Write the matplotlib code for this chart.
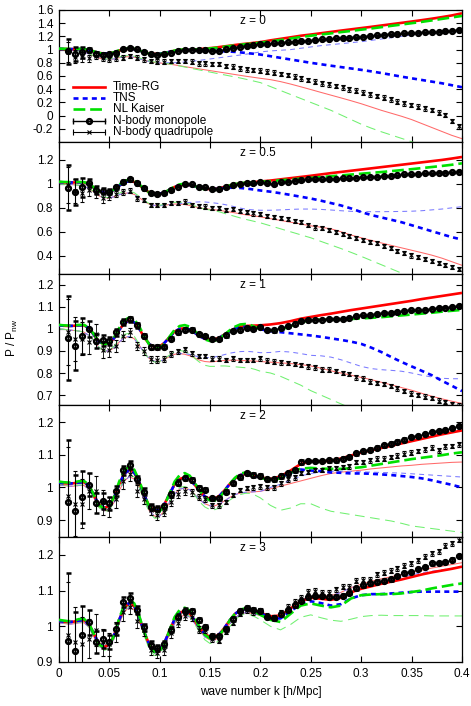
import numpy as np
import matplotlib
matplotlib.use("Agg")
import matplotlib.pyplot as plt
from matplotlib.ticker import FuncFormatter

plt.rcParams['font.family'] = ['Liberation Sans', 'DejaVu Sans']
plt.rcParams['mathtext.fontset'] = 'custom'
plt.rcParams['mathtext.rm'] = 'Liberation Sans'
plt.rcParams['mathtext.it'] = 'Liberation Sans'
plt.rcParams['lines.scale_dashes'] = False

# ---------------- data ----------------
k_nbody = [0.0095, 0.0163, 0.0231, 0.0299, 0.0367, 0.0435, 0.0503, 0.0571, 0.0639, 0.0707,
           0.0775, 0.0843, 0.0911, 0.0979, 0.1047, 0.1115, 0.1183, 0.1251, 0.1319, 0.1387,
           0.1455, 0.1523, 0.1591, 0.1659, 0.1727, 0.1795, 0.1863, 0.1931, 0.1999, 0.2067,
           0.2135, 0.2203, 0.2271, 0.2339, 0.2407, 0.2475, 0.2543, 0.2611, 0.2679, 0.2747,
           0.2815, 0.2883, 0.2951, 0.3019, 0.3087, 0.3155, 0.3223, 0.3291, 0.3359, 0.3427,
           0.3495, 0.3563, 0.3631, 0.3699, 0.3767, 0.3835, 0.3903, 0.3971]

k_line = [0.0, 0.005, 0.01, 0.015, 0.02, 0.025, 0.03, 0.035, 0.04, 0.045,
          0.05, 0.055, 0.06, 0.065, 0.07, 0.075, 0.08, 0.085, 0.09, 0.095,
          0.1, 0.105, 0.11, 0.115, 0.12, 0.125, 0.13, 0.135, 0.14, 0.145,
          0.15, 0.155, 0.16, 0.165, 0.17, 0.175, 0.18, 0.185, 0.19, 0.195,
          0.2, 0.21, 0.22, 0.23, 0.24, 0.25, 0.26, 0.27, 0.28, 0.29,
          0.3, 0.31, 0.32, 0.33, 0.34, 0.35, 0.36, 0.37, 0.38, 0.39, 0.4]

mono_err = [0.190, 0.110, 0.080, 0.035, 0.030, 0.025, 0.020, 0.016, 0.014, 0.012,
            0.011, 0.010, 0.009, 0.008, 0.008, 0.007, 0.007, 0.006, 0.006, 0.006,
            0.005, 0.005, 0.005, 0.005, 0.005, 0.005, 0.005, 0.005, 0.005, 0.005,
            0.005, 0.005, 0.005, 0.005, 0.005, 0.004, 0.004, 0.004, 0.004, 0.004,
            0.004, 0.004, 0.004, 0.004, 0.004, 0.004, 0.004, 0.004, 0.004, 0.004,
            0.003, 0.003, 0.003, 0.003, 0.003, 0.003, 0.003, 0.003]

# ---- z = 0 ----
mono_z0 = [0.975, 0.930, 0.960, 0.995, 0.935, 0.925, 0.930, 0.955, 1.005, 1.030,
           1.005, 0.970, 0.930, 0.925, 0.930, 0.950, 0.980, 0.995, 1.000, 0.995,
           0.995, 0.985, 0.985, 1.004, 1.029, 1.044, 1.055, 1.070, 1.080, 1.085,
           1.095, 1.105, 1.110, 1.121, 1.131, 1.136, 1.146, 1.156, 1.161, 1.171,
           1.176, 1.181, 1.186, 1.196, 1.206, 1.217, 1.227, 1.232, 1.236, 1.247,
           1.252, 1.257, 1.262, 1.267, 1.272, 1.282, 1.287, 1.297]
quad_z0 = [0.960, 0.890, 0.890, 0.868, 0.900, 0.870, 0.853, 0.868, 0.880, 0.903,
           0.880, 0.853, 0.827, 0.817, 0.817, 0.827, 0.826, 0.826, 0.817, 0.792,
           0.792, 0.782, 0.782, 0.752, 0.741, 0.716, 0.701, 0.691, 0.681, 0.666,
           0.650, 0.630, 0.615, 0.590, 0.564, 0.539, 0.514, 0.489, 0.474, 0.448,
           0.429, 0.398, 0.377, 0.347, 0.322, 0.297, 0.271, 0.247, 0.211, 0.186,
           0.161, 0.135, 0.110, 0.085, 0.045, 0.010, -0.080, -0.165]
quad_err_z0 = [0.150, 0.100, 0.075, 0.055, 0.045, 0.040, 0.038, 0.035, 0.035, 0.035,
               0.035, 0.035, 0.035, 0.035, 0.035, 0.035, 0.035, 0.035, 0.035, 0.035,
               0.035, 0.035, 0.035, 0.035, 0.035, 0.035, 0.035, 0.035, 0.035, 0.035,
               0.035, 0.035, 0.035, 0.035, 0.035, 0.035, 0.035, 0.035, 0.035, 0.035,
               0.035, 0.035, 0.035, 0.035, 0.035, 0.035, 0.035, 0.035, 0.035, 0.035,
               0.035, 0.035, 0.035, 0.035, 0.035, 0.035, 0.035, 0.035]
trg_mono_z0 = [1.012, 1.010, 1.008, 1.008, 1.008, 1.006, 0.995, 0.972, 0.950, 0.940,
               0.943, 0.960, 0.985, 1.005, 1.013, 1.006, 0.985, 0.960, 0.942, 0.935,
               0.937, 0.948, 0.966, 0.982, 0.995, 0.998, 1.000, 1.003, 1.008, 1.015,
               1.022, 1.030, 1.040, 1.050, 1.060, 1.070, 1.080, 1.088, 1.096, 1.105,
               1.113,
               1.140, 1.163, 1.186, 1.210, 1.228, 1.248, 1.268, 1.288, 1.307, 1.326,
               1.345, 1.365, 1.385, 1.405, 1.425, 1.446, 1.468, 1.492, 1.518, 1.550]
nlk_mono_z0 = [1.015, 1.013, 1.011, 1.011, 1.011, 1.009, 0.997, 0.972, 0.948, 0.937,
               0.940, 0.960, 0.990, 1.012, 1.020, 1.011, 0.987, 0.959, 0.938, 0.930,
               0.932, 0.945, 0.966, 0.985, 0.998, 1.002, 1.002, 1.002, 1.005, 1.010,
               1.017, 1.025, 1.034, 1.044, 1.054, 1.064, 1.073, 1.081, 1.089, 1.097,
               1.105,
               1.125, 1.145, 1.167, 1.190, 1.210, 1.228, 1.246, 1.265, 1.283, 1.302,
               1.320, 1.340, 1.360, 1.380, 1.400, 1.420, 1.442, 1.465, 1.488, 1.510]
tns_mono_z0 = [1.012, 1.010, 1.008, 1.008, 1.008, 1.006, 0.995, 0.972, 0.950, 0.940,
               0.943, 0.960, 0.985, 1.005, 1.013, 1.006, 0.985, 0.960, 0.942, 0.935,
               0.937, 0.948, 0.966, 0.982, 0.992, 0.996, 0.996, 0.995, 0.993, 0.990,
               0.986, 0.982, 0.978, 0.974, 0.970, 0.965, 0.958, 0.950, 0.942, 0.934,
               0.925,
               0.900, 0.875, 0.850, 0.825, 0.800, 0.778, 0.756, 0.735, 0.714, 0.693,
               0.670, 0.645, 0.618, 0.590, 0.565, 0.540, 0.515, 0.490, 0.460, 0.430]
trg_quad_z0 = [1.000, 0.998, 0.994, 0.988, 0.978, 0.962, 0.935, 0.900, 0.870, 0.853,
               0.850, 0.860, 0.877, 0.890, 0.893, 0.884, 0.862, 0.838, 0.818, 0.805,
               0.798, 0.790, 0.780, 0.768, 0.755, 0.742, 0.730, 0.718, 0.706, 0.694,
               0.682, 0.670, 0.658, 0.646, 0.634, 0.622, 0.610, 0.598, 0.587, 0.576,
               0.565,
               0.545, 0.515, 0.478, 0.437, 0.395, 0.352, 0.310, 0.268, 0.225, 0.180,
               0.130, 0.080, 0.035, -0.010, -0.060, -0.120, -0.180, -0.240, -0.300, -0.350]
tns_quad_z0 = [1.000, 0.998, 0.994, 0.988, 0.978, 0.962, 0.935, 0.900, 0.870, 0.853,
               0.850, 0.860, 0.877, 0.890, 0.893, 0.884, 0.862, 0.838, 0.818, 0.805,
               0.800, 0.800, 0.800, 0.802, 0.806, 0.812, 0.820, 0.828, 0.838, 0.848,
               0.858, 0.868, 0.878, 0.888, 0.898, 0.908, 0.918, 0.928, 0.940, 0.952,
               0.965,
               0.980, 0.990, 1.000, 1.020, 1.040, 1.060, 1.075, 1.090, 1.105, 1.120,
               1.140, 1.160, 1.180, 1.200, 1.220, 1.237, 1.250, 1.260, 1.268, 1.272]
nlk_quad_z0 = [1.000, 0.998, 0.994, 0.988, 0.979, 0.964, 0.938, 0.905, 0.876, 0.860,
               0.858, 0.870, 0.890, 0.906, 0.910, 0.900, 0.875, 0.848, 0.826, 0.812,
               0.803, 0.794, 0.782, 0.768, 0.752, 0.736, 0.720, 0.705, 0.690, 0.675,
               0.660, 0.645, 0.630, 0.615, 0.600, 0.585, 0.570, 0.553, 0.536, 0.518,
               0.500,
               0.440, 0.380, 0.320, 0.260, 0.200, 0.140, 0.080, 0.010, -0.060, -0.130,
               -0.190, -0.245, -0.295, -0.345, -0.395, -0.450, -0.500, -0.550, -0.600, -0.650]

# ---- z = 0.5 ----
mono_z05 = [0.968, 0.930, 0.970, 1.005, 0.949, 0.941, 0.935, 0.970, 1.018, 1.038,
            1.005, 0.963, 0.921, 0.916, 0.921, 0.949, 0.977, 0.996, 0.996, 0.977,
            0.970, 0.957, 0.954, 0.970, 0.990, 0.999, 1.005, 1.005, 1.013, 1.005,
            0.999, 1.013, 1.019, 1.027, 1.033, 1.038, 1.038, 1.038, 1.041, 1.041,
            1.047, 1.047, 1.052, 1.055, 1.060, 1.060, 1.066, 1.068, 1.074, 1.080,
            1.080, 1.082, 1.088, 1.088, 1.094, 1.094, 1.097, 1.102]
quad_z05 = [0.990, 0.941, 0.920, 0.950, 0.930, 0.880, 0.900, 0.916, 0.935, 0.941,
            0.880, 0.866, 0.824, 0.824, 0.824, 0.838, 0.843, 0.852, 0.824, 0.818,
            0.810, 0.801, 0.801, 0.782, 0.788, 0.776, 0.768, 0.754, 0.746, 0.732,
            0.721, 0.713, 0.704, 0.693, 0.679, 0.657, 0.637, 0.629, 0.615, 0.601,
            0.579, 0.565, 0.546, 0.531, 0.512, 0.504, 0.481, 0.462, 0.442, 0.425,
            0.403, 0.387, 0.372, 0.356, 0.337, 0.322, 0.308, 0.292]
quad_err_z05 = [0.150, 0.100, 0.075, 0.055, 0.045, 0.038, 0.032, 0.028, 0.024, 0.021,
                0.019, 0.018, 0.018, 0.018, 0.018, 0.018, 0.018, 0.018, 0.018, 0.018,
                0.018, 0.018, 0.018, 0.018, 0.018, 0.018, 0.018, 0.018, 0.018, 0.018,
                0.018, 0.018, 0.018, 0.018, 0.018, 0.018, 0.018, 0.018, 0.018, 0.018,
                0.018, 0.018, 0.018, 0.018, 0.018, 0.018, 0.018, 0.018, 0.018, 0.018,
                0.018, 0.018, 0.018, 0.018, 0.018, 0.018, 0.018, 0.018]
trg_mono_z05 = [1.015, 1.013, 1.012, 1.012, 1.013, 1.012, 0.998, 0.968, 0.938, 0.926,
                0.930, 0.952, 0.985, 1.012, 1.024, 1.017, 0.990, 0.955, 0.928, 0.916,
                0.917, 0.930, 0.952, 0.975, 0.988, 0.993, 0.990, 0.980, 0.968, 0.960,
                0.956, 0.958, 0.965, 0.976, 0.987, 0.996, 1.003, 1.008, 1.012, 1.016,
                1.020,
                1.028, 1.038, 1.048, 1.058, 1.068, 1.079, 1.090, 1.100, 1.110, 1.120,
                1.130, 1.140, 1.150, 1.160, 1.170, 1.180, 1.190, 1.200, 1.212, 1.225]
nlk_mono_z05 = [1.018, 1.016, 1.015, 1.015, 1.016, 1.015, 1.001, 0.970, 0.938, 0.925,
                0.929, 0.955, 0.993, 1.024, 1.036, 1.027, 0.996, 0.956, 0.925, 0.911,
                0.912, 0.927, 0.953, 0.980, 0.996, 1.001, 0.996, 0.982, 0.966, 0.954,
                0.949, 0.951, 0.960, 0.974, 0.988, 0.999, 1.006, 1.010, 1.012, 1.014,
                1.017,
                1.023, 1.030, 1.037, 1.044, 1.050, 1.057, 1.064, 1.071, 1.078, 1.085,
                1.092, 1.099, 1.107, 1.115, 1.123, 1.132, 1.141, 1.150, 1.160, 1.172]
tns_mono_z05 = [1.015, 1.013, 1.012, 1.012, 1.013, 1.012, 0.998, 0.968, 0.938, 0.926,
                0.930, 0.952, 0.985, 1.012, 1.024, 1.017, 0.990, 0.955, 0.928, 0.916,
                0.917, 0.930, 0.952, 0.975, 0.988, 0.993, 0.990, 0.980, 0.968, 0.960,
                0.956, 0.958, 0.962, 0.966, 0.968, 0.968, 0.966, 0.962, 0.957, 0.951,
                0.945,
                0.935, 0.922, 0.908, 0.893, 0.878, 0.860, 0.840, 0.820, 0.795, 0.765,
                0.740, 0.720, 0.700, 0.680, 0.655, 0.630, 0.605, 0.580, 0.555, 0.535]
trg_quad_z05 = [1.000, 0.998, 0.996, 0.993, 0.988, 0.980, 0.962, 0.932, 0.900, 0.884,
                0.882, 0.893, 0.910, 0.922, 0.924, 0.912, 0.885, 0.853, 0.830, 0.820,
                0.818, 0.822, 0.828, 0.832, 0.832, 0.828, 0.820, 0.810, 0.800, 0.793,
                0.788, 0.783, 0.778, 0.772, 0.765, 0.758, 0.750, 0.743, 0.737, 0.731,
                0.725,
                0.710, 0.695, 0.680, 0.665, 0.650, 0.638, 0.625, 0.600, 0.573, 0.550,
                0.528, 0.507, 0.486, 0.466, 0.446, 0.426, 0.405, 0.380, 0.350, 0.320]
tns_quad_z05 = [1.000, 0.998, 0.996, 0.993, 0.988, 0.980, 0.962, 0.932, 0.900, 0.884,
                0.882, 0.893, 0.910, 0.922, 0.924, 0.912, 0.885, 0.853, 0.830, 0.820,
                0.818, 0.822, 0.828, 0.832, 0.836, 0.840, 0.845, 0.848, 0.850, 0.849,
                0.845, 0.840, 0.835, 0.827, 0.818, 0.808, 0.798, 0.790, 0.785, 0.782,
                0.780,
                0.780, 0.783, 0.787, 0.790, 0.790, 0.787, 0.782, 0.776, 0.771, 0.768,
                0.768, 0.768, 0.769, 0.770, 0.772, 0.776, 0.783, 0.790, 0.800, 0.810]
nlk_quad_z05 = [1.000, 0.998, 0.996, 0.993, 0.989, 0.982, 0.965, 0.936, 0.905, 0.888,
                0.886, 0.900, 0.922, 0.938, 0.940, 0.926, 0.895, 0.860, 0.835, 0.823,
                0.822, 0.828, 0.838, 0.846, 0.848, 0.843, 0.832, 0.816, 0.800, 0.790,
                0.782, 0.775, 0.765, 0.752, 0.740, 0.728, 0.716, 0.705, 0.695, 0.685,
                0.675,
                0.650, 0.625, 0.600, 0.575, 0.550, 0.520, 0.490, 0.460, 0.428, 0.395,
                0.360, 0.325, 0.290, 0.255, 0.220, 0.185, 0.150, 0.115, 0.080, 0.045]

# ---- z = 1 ----
mono_z1 = [0.958, 0.924, 0.967, 1.000, 0.945, 0.948, 0.945, 0.985, 1.031, 1.043,
           1.016, 0.968, 0.920, 0.917, 0.920, 0.956, 0.985, 0.997, 0.997, 0.975,
           0.966, 0.955, 0.955, 0.970, 0.990, 0.997, 1.003, 1.000, 1.008, 0.996,
           0.993, 1.003, 1.013, 1.024, 1.034, 1.039, 1.042, 1.042, 1.043, 1.045,
           1.046, 1.051, 1.057, 1.061, 1.064, 1.069, 1.072, 1.073, 1.076, 1.081,
           1.084, 1.084, 1.087, 1.092, 1.095, 1.096, 1.099, 1.104]
quad_z1 = [0.985, 0.955, 0.955, 0.940, 0.975, 0.905, 0.905, 0.922, 0.967, 0.985,
           0.922, 0.900, 0.862, 0.860, 0.862, 0.885, 0.898, 0.907, 0.890, 0.878,
           0.878, 0.865, 0.865, 0.860, 0.866, 0.860, 0.860, 0.860, 0.866, 0.856,
           0.852, 0.848, 0.845, 0.841, 0.837, 0.830, 0.825, 0.815, 0.815, 0.810,
           0.800, 0.795, 0.780, 0.775, 0.761, 0.756, 0.750, 0.742, 0.730, 0.718,
           0.707, 0.700, 0.693, 0.686, 0.675, 0.668, 0.660, 0.652]
quad_err_z1 = [0.150, 0.100, 0.075, 0.055, 0.045, 0.038, 0.032, 0.028, 0.024, 0.021,
               0.019, 0.017, 0.016, 0.015, 0.014, 0.013, 0.012, 0.012, 0.011, 0.010,
               0.010, 0.010, 0.010, 0.010, 0.010, 0.010, 0.010, 0.010, 0.010, 0.010,
               0.010, 0.010, 0.010, 0.010, 0.010, 0.010, 0.010, 0.010, 0.010, 0.010,
               0.010, 0.010, 0.010, 0.010, 0.010, 0.010, 0.010, 0.010, 0.010, 0.010,
               0.010, 0.010, 0.010, 0.010, 0.010, 0.010, 0.010, 0.010]
trg_mono_z1 = [1.016, 1.014, 1.013, 1.014, 1.016, 1.016, 1.003, 0.972, 0.942, 0.930,
               0.934, 0.958, 0.995, 1.025, 1.038, 1.030, 1.000, 0.960, 0.930, 0.918,
               0.920, 0.937, 0.963, 0.988, 1.000, 1.003, 0.997, 0.982, 0.966, 0.955,
               0.951, 0.953, 0.962, 0.976, 0.990, 1.002, 1.010, 1.013, 1.014, 1.015,
               1.016,
               1.020, 1.026, 1.035, 1.046, 1.054, 1.062, 1.069, 1.077, 1.085, 1.092,
               1.099, 1.106, 1.113, 1.120, 1.127, 1.135, 1.142, 1.149, 1.156, 1.163]
nlk_mono_z1 = [1.018, 1.016, 1.015, 1.016, 1.018, 1.018, 1.006, 0.975, 0.943, 0.930,
               0.934, 0.962, 1.004, 1.038, 1.052, 1.043, 1.010, 0.965, 0.928, 0.912,
               0.914, 0.932, 0.965, 0.996, 1.013, 1.017, 1.010, 0.990, 0.968, 0.952,
               0.945, 0.947, 0.958, 0.976, 0.995, 1.010, 1.020, 1.022, 1.018, 1.008,
               0.998,
               0.992, 0.996, 1.012, 1.030, 1.040, 1.042, 1.042, 1.043, 1.045, 1.047,
               1.050, 1.053, 1.057, 1.061, 1.065, 1.069, 1.073, 1.078, 1.082, 1.086]
tns_mono_z1 = [1.016, 1.014, 1.013, 1.014, 1.016, 1.016, 1.003, 0.972, 0.942, 0.930,
               0.934, 0.958, 0.995, 1.025, 1.038, 1.030, 1.000, 0.960, 0.930, 0.918,
               0.920, 0.937, 0.963, 0.988, 1.000, 1.003, 0.997, 0.982, 0.966, 0.955,
               0.951, 0.953, 0.962, 0.976, 0.990, 1.002, 1.008, 1.010, 1.008, 1.003,
               0.998,
               0.990, 0.985, 0.980, 0.975, 0.970, 0.964, 0.957, 0.950, 0.942, 0.932,
               0.915, 0.895, 0.872, 0.850, 0.830, 0.810, 0.790, 0.765, 0.742, 0.718]
trg_quad_z1 = [1.000, 0.998, 0.995, 0.993, 0.990, 0.985, 0.970, 0.945, 0.915, 0.900,
               0.900, 0.915, 0.940, 0.960, 0.966, 0.955, 0.925, 0.890, 0.865, 0.853,
               0.853, 0.862, 0.875, 0.885, 0.888, 0.885, 0.878, 0.868, 0.858, 0.852,
               0.850, 0.852, 0.855, 0.857, 0.858, 0.858, 0.857, 0.856, 0.855, 0.854,
               0.852,
               0.849, 0.846, 0.843, 0.838, 0.832, 0.822, 0.810, 0.800, 0.790, 0.780,
               0.770, 0.758, 0.746, 0.734, 0.722, 0.708, 0.695, 0.683, 0.672, 0.662]
tns_quad_z1 = [1.000, 0.998, 0.995, 0.993, 0.990, 0.985, 0.970, 0.945, 0.915, 0.900,
               0.900, 0.915, 0.940, 0.960, 0.966, 0.955, 0.925, 0.890, 0.865, 0.853,
               0.853, 0.862, 0.875, 0.885, 0.888, 0.888, 0.884, 0.878, 0.872, 0.870,
               0.870, 0.873, 0.878, 0.884, 0.890, 0.894, 0.897, 0.898, 0.897, 0.895,
               0.892,
               0.893, 0.898, 0.895, 0.888, 0.880, 0.878, 0.872, 0.860, 0.845, 0.830,
               0.820, 0.815, 0.812, 0.808, 0.800, 0.790, 0.782, 0.776, 0.774, 0.774]
nlk_quad_z1 = [1.000, 0.998, 0.995, 0.993, 0.990, 0.986, 0.972, 0.947, 0.917, 0.900,
               0.902, 0.922, 0.952, 0.975, 0.980, 0.966, 0.930, 0.890, 0.862, 0.850,
               0.852, 0.865, 0.882, 0.896, 0.902, 0.898, 0.886, 0.866, 0.848, 0.835,
               0.830, 0.830, 0.832, 0.832, 0.830, 0.828, 0.826, 0.824, 0.822, 0.816,
               0.808,
               0.800, 0.785, 0.765, 0.745, 0.720, 0.700, 0.680, 0.660, 0.640, 0.620,
               0.600, 0.580, 0.560, 0.540, 0.520, 0.500, 0.480, 0.460, 0.440, 0.420]

# ---- z = 2 ----
mono_z2 = [0.955, 0.927, 0.972, 1.008, 0.952, 0.958, 0.952, 0.990, 1.053, 1.069,
           1.025, 0.987, 0.939, 0.935, 0.942, 0.979, 1.015, 1.030, 1.023, 0.998,
           0.993, 0.967, 0.967, 0.987, 1.013, 1.031, 1.043, 1.038, 1.036, 1.025,
           1.025, 1.035, 1.043, 1.053, 1.078, 1.081, 1.081, 1.081, 1.083, 1.083,
           1.088, 1.093, 1.105, 1.111, 1.116, 1.122, 1.129, 1.134, 1.141, 1.147,
           1.154, 1.157, 1.164, 1.169, 1.172, 1.177, 1.182, 1.189]
quad_z2 = [0.975, 0.950, 0.950, 0.990, 0.990, 0.955, 0.940, 0.965, 1.020, 1.040,
           0.990, 0.965, 0.930, 0.915, 0.925, 0.955, 0.980, 0.990, 0.985, 0.970,
           0.965, 0.945, 0.945, 0.955, 0.977, 0.992, 0.998, 1.000, 1.003, 1.000,
           1.000, 1.013, 1.025, 1.031, 1.045, 1.048, 1.053, 1.053, 1.060, 1.060,
           1.063, 1.065, 1.078, 1.078, 1.083, 1.088, 1.088, 1.093, 1.098, 1.104,
           1.107, 1.112, 1.117, 1.122, 1.114, 1.126, 1.127, 1.132]
quad_err_z2 = [0.150, 0.100, 0.075, 0.055, 0.045, 0.038, 0.032, 0.028, 0.024, 0.021,
               0.019, 0.017, 0.016, 0.015, 0.014, 0.013, 0.012, 0.012, 0.011, 0.010,
               0.009, 0.008, 0.007, 0.007, 0.007, 0.007, 0.007, 0.007, 0.007, 0.007,
               0.007, 0.007, 0.007, 0.007, 0.007, 0.007, 0.007, 0.007, 0.007, 0.007,
               0.007, 0.007, 0.007, 0.007, 0.007, 0.007, 0.007, 0.007, 0.007, 0.007,
               0.007, 0.007, 0.007, 0.007, 0.007, 0.007, 0.007, 0.007]
trg_mono_z2 = [1.015, 1.013, 1.012, 1.013, 1.015, 1.016, 1.005, 0.975, 0.948, 0.937,
               0.943, 0.970, 1.010, 1.042, 1.054, 1.045, 1.015, 0.975, 0.942, 0.929,
               0.931, 0.950, 0.980, 1.010, 1.026, 1.031, 1.025, 1.008, 0.988, 0.972,
               0.965, 0.966, 0.976, 0.993, 1.012, 1.028, 1.038, 1.041, 1.039, 1.035,
               1.031,
               1.026, 1.034, 1.052, 1.072, 1.080, 1.080, 1.082, 1.089, 1.098, 1.107,
               1.114, 1.121, 1.128, 1.135, 1.142, 1.149, 1.156, 1.163, 1.169, 1.175]
nlk_mono_z2 = [1.018, 1.016, 1.015, 1.016, 1.019, 1.020, 1.008, 0.976, 0.946, 0.935,
               0.941, 0.972, 1.018, 1.052, 1.065, 1.054, 1.020, 0.976, 0.940, 0.924,
               0.926, 0.946, 0.982, 1.018, 1.038, 1.044, 1.036, 1.014, 0.990, 0.970,
               0.960, 0.960, 0.971, 0.990, 1.012, 1.030, 1.042, 1.046, 1.043, 1.036,
               1.030,
               1.022, 1.028, 1.045, 1.058, 1.060, 1.058, 1.057, 1.057, 1.059, 1.062,
               1.067, 1.072, 1.077, 1.082, 1.087, 1.091, 1.095, 1.099, 1.104, 1.108]
tns_mono_z2 = trg_mono_z2[:41] + [
               1.024, 1.030, 1.045, 1.055, 1.052, 1.050, 1.046, 1.045, 1.043, 1.043,
               1.042, 1.040, 1.038, 1.035, 1.032, 1.028, 1.022, 1.015, 1.008, 1.000]
trg_quad_z2 = [1.008, 1.006, 1.004, 1.004, 1.006, 1.006, 0.995, 0.967, 0.940, 0.928,
               0.932, 0.955, 0.990, 1.020, 1.033, 1.026, 0.998, 0.960, 0.928, 0.912,
               0.912, 0.928, 0.955, 0.980, 0.995, 0.998, 0.993, 0.978, 0.962, 0.950,
               0.944, 0.944, 0.950, 0.960, 0.970, 0.978, 0.983, 0.985, 0.986, 0.987,
               0.988,
               0.996, 1.004, 1.012, 1.020, 1.028, 1.036, 1.043, 1.047, 1.050, 1.053,
               1.057, 1.060, 1.063, 1.066, 1.068, 1.071, 1.073, 1.075, 1.077, 1.078]
tns_quad_z2 = trg_quad_z2[:41] + [
               1.000, 1.010, 1.022, 1.035, 1.043, 1.047, 1.050, 1.050, 1.049, 1.048,
               1.047, 1.046, 1.045, 1.044, 1.042, 1.040, 1.038, 1.036, 1.034, 1.032]
nlk_quad_z2 = [1.010, 1.008, 1.006, 1.006, 1.008, 1.008, 0.996, 0.966, 0.938, 0.926,
               0.930, 0.955, 0.994, 1.026, 1.040, 1.032, 1.000, 0.958, 0.924, 0.906,
               0.906, 0.924, 0.955, 0.984, 1.000, 1.003, 0.996, 0.976, 0.955, 0.940,
               0.932, 0.932, 0.938, 0.950, 0.962, 0.972, 0.978, 0.982, 0.982, 0.976,
               0.968,
               0.945, 0.930, 0.937, 0.950, 0.950, 0.937, 0.927, 0.922, 0.917, 0.912,
               0.907, 0.902, 0.897, 0.890, 0.882, 0.878, 0.874, 0.870, 0.866, 0.862]

# ---- z = 3 ----
mono_z3 = [0.959, 0.931, 0.976, 1.012, 0.956, 0.965, 0.956, 0.993, 1.067, 1.080,
           1.045, 0.997, 0.949, 0.940, 0.950, 0.991, 1.027, 1.044, 1.043, 1.018,
           0.998, 0.973, 0.972, 0.993, 1.021, 1.044, 1.052, 1.047, 1.044, 1.027,
           1.022, 1.035, 1.047, 1.059, 1.072, 1.081, 1.085, 1.085, 1.083, 1.083,
           1.086, 1.094, 1.106, 1.115, 1.120, 1.125, 1.128, 1.132, 1.141, 1.148,
           1.153, 1.160, 1.167, 1.176, 1.178, 1.181, 1.187, 1.197]
quad_z3 = [0.975, 0.955, 0.950, 0.965, 0.990, 0.955, 0.950, 0.985, 1.040, 1.055,
           1.015, 0.990, 0.935, 0.925, 0.935, 0.980, 1.010, 1.030, 1.025, 0.990,
           0.990, 0.965, 0.960, 0.985, 1.010, 1.035, 1.045, 1.040, 1.045, 1.030,
           1.025, 1.040, 1.055, 1.069, 1.080, 1.097, 1.100, 1.094, 1.094, 1.104,
           1.111, 1.111, 1.128, 1.130, 1.130, 1.146, 1.150, 1.155, 1.162, 1.169,
           1.176, 1.185, 1.195, 1.205, 1.210, 1.225, 1.232, 1.242]
quad_err_z3 = [0.150, 0.100, 0.075, 0.055, 0.045, 0.038, 0.032, 0.028, 0.024, 0.021,
               0.019, 0.017, 0.016, 0.015, 0.014, 0.013, 0.012, 0.012, 0.011, 0.010,
               0.009, 0.008, 0.007, 0.007, 0.007, 0.007, 0.007, 0.007, 0.007, 0.007,
               0.007, 0.007, 0.007, 0.007, 0.007, 0.007, 0.007, 0.007, 0.007, 0.007,
               0.007, 0.007, 0.007, 0.007, 0.007, 0.007, 0.007, 0.007, 0.007, 0.007,
               0.007, 0.007, 0.007, 0.007, 0.007, 0.007, 0.007, 0.007]
trg_mono_z3 = [1.015, 1.013, 1.012, 1.013, 1.016, 1.017, 1.006, 0.978, 0.952, 0.942,
               0.948, 0.975, 1.018, 1.052, 1.066, 1.056, 1.024, 0.982, 0.948, 0.933,
               0.935, 0.955, 0.988, 1.020, 1.038, 1.043, 1.036, 1.016, 0.995, 0.978,
               0.970, 0.970, 0.980, 0.998, 1.018, 1.035, 1.045, 1.048, 1.046, 1.043,
               1.038,
               1.028, 1.030, 1.050, 1.070, 1.080, 1.077, 1.074, 1.080, 1.095, 1.105,
               1.112, 1.119, 1.125, 1.131, 1.138, 1.145, 1.151, 1.156, 1.161, 1.167]
nlk_mono_z3 = [1.018, 1.016, 1.014, 1.016, 1.020, 1.021, 1.008, 0.978, 0.950, 0.940,
               0.946, 0.975, 1.022, 1.060, 1.075, 1.064, 1.028, 0.982, 0.945, 0.928,
               0.930, 0.952, 0.990, 1.026, 1.046, 1.052, 1.044, 1.022, 0.996, 0.976,
               0.966, 0.966, 0.977, 0.996, 1.018, 1.036, 1.047, 1.050, 1.047, 1.040,
               1.032,
               1.018, 1.012, 1.035, 1.058, 1.064, 1.058, 1.053, 1.058, 1.078, 1.087,
               1.089, 1.090, 1.090, 1.092, 1.096, 1.100, 1.106, 1.111, 1.116, 1.120]
tns_mono_z3 = trg_mono_z3[:41] + [
               1.022, 1.022, 1.042, 1.062, 1.070, 1.065, 1.058, 1.062, 1.078, 1.087,
               1.090, 1.090, 1.092, 1.094, 1.096, 1.097, 1.097, 1.097, 1.097, 1.097]
trg_quad_z3 = [1.010, 1.008, 1.006, 1.007, 1.010, 1.010, 0.998, 0.970, 0.945, 0.935,
               0.940, 0.966, 1.008, 1.040, 1.054, 1.046, 1.015, 0.975, 0.940, 0.925,
               0.927, 0.946, 0.978, 1.008, 1.026, 1.031, 1.026, 1.008, 0.988, 0.970,
               0.962, 0.962, 0.972, 0.990, 1.008, 1.024, 1.034, 1.038, 1.037, 1.034,
               1.030,
               1.022, 1.028, 1.050, 1.072, 1.084, 1.084, 1.086, 1.095, 1.108, 1.118,
               1.126, 1.133, 1.139, 1.145, 1.151, 1.157, 1.163, 1.168, 1.173, 1.178]
tns_quad_z3 = trg_quad_z3[:41] + [
               1.022, 1.028, 1.050, 1.072, 1.084, 1.084, 1.086, 1.095, 1.108, 1.115,
               1.120, 1.126, 1.132, 1.138, 1.144, 1.150, 1.154, 1.158, 1.162, 1.166]
nlk_quad_z3 = [1.012, 1.010, 1.008, 1.009, 1.012, 1.012, 0.998, 0.968, 0.942, 0.932,
               0.938, 0.966, 1.010, 1.045, 1.060, 1.050, 1.016, 0.972, 0.935, 0.918,
               0.920, 0.940, 0.975, 1.010, 1.030, 1.036, 1.028, 1.006, 0.982, 0.962,
               0.952, 0.952, 0.962, 0.980, 1.000, 1.018, 1.030, 1.035, 1.032, 1.026,
               1.018,
               1.000, 0.990, 1.005, 1.025, 1.032, 1.024, 1.017, 1.014, 1.020, 1.027,
               1.030, 1.031, 1.030, 1.030, 1.030, 1.030, 1.029, 1.029, 1.029, 1.029]

z_labels = ['z = 0', 'z = 0.5', 'z = 1', 'z = 2', 'z = 3']
y_limits = [(-0.4, 1.6), (0.25, 1.35), (0.655, 1.25), (0.848, 1.253), (0.9, 1.25)]
y_ticks = [[-0.2, 0, 0.2, 0.4, 0.6, 0.8, 1, 1.2, 1.4, 1.6],
           [0.4, 0.6, 0.8, 1, 1.2],
           [0.7, 0.8, 0.9, 1, 1.1, 1.2],
           [0.9, 1, 1.1, 1.2],
           [0.9, 1, 1.1, 1.2]]
x_ticks = [0, 0.05, 0.1, 0.15, 0.2, 0.25, 0.3, 0.35, 0.4]
legend_labels = ['Time-RG', 'TNS', 'NL Kaiser', 'N-body monopole', 'N-body quadrupole']

panels = [
    dict(mono=mono_z0, quad=quad_z0, qerr=quad_err_z0, trg=trg_mono_z0, tns=tns_mono_z0, nlk=nlk_mono_z0,
         trg2=trg_quad_z0, tns2=tns_quad_z0, nlk2=nlk_quad_z0),
    dict(mono=mono_z05, quad=quad_z05, qerr=quad_err_z05, trg=trg_mono_z05, tns=tns_mono_z05, nlk=nlk_mono_z05,
         trg2=trg_quad_z05, tns2=tns_quad_z05, nlk2=nlk_quad_z05),
    dict(mono=mono_z1, quad=quad_z1, qerr=quad_err_z1, trg=trg_mono_z1, tns=tns_mono_z1, nlk=nlk_mono_z1,
         trg2=trg_quad_z1, tns2=tns_quad_z1, nlk2=nlk_quad_z1),
    dict(mono=mono_z2, quad=quad_z2, qerr=quad_err_z2, trg=trg_mono_z2, tns=tns_mono_z2, nlk=nlk_mono_z2,
         trg2=trg_quad_z2, tns2=tns_quad_z2, nlk2=nlk_quad_z2),
    dict(mono=mono_z3, quad=quad_z3, qerr=quad_err_z3, trg=trg_mono_z3, tns=tns_mono_z3, nlk=nlk_mono_z3,
         trg2=trg_quad_z3, tns2=tns_quad_z3, nlk2=nlk_quad_z3),
]
for p in panels:
    for key in ('trg', 'tns', 'nlk', 'trg2', 'tns2', 'nlk2'):
        assert len(p[key]) == len(k_line), (key, len(p[key]))
    for key in ('mono', 'quad', 'qerr'):
        assert len(p[key]) == len(k_nbody), (key, len(p[key]))
assert len(mono_err) == len(k_nbody)

# ---------------- styles ----------------
RED, BLUE, GREEN = '#ff0000', '#0000ff', '#00e000'
TH_RED, TH_BLUE, TH_GREEN = '#ff6a6a', '#7a7aff', '#70f070'
FS = 8.5
MONO_STYLE = dict(fmt='o', ms=3.4, mew=1.8, mfc='none', mec='black', color='black',
                  ecolor='black', elinewidth=0.8, capsize=1.8, capthick=0.8)
QUAD_STYLE = dict(fmt='x', ms=3.2, mew=0.8, color='black', ecolor='black',
                  elinewidth=0.6, capsize=1.6, capthick=0.6)

W, H = 471.0, 706.0
LEFT, RIGHT = 58.7, 462.0
panel_px = [(10, 142), (142, 273.7), (273.7, 405), (405, 537), (537, 662)]

fig = plt.figure(figsize=(W / 100, H / 100), dpi=100)
fmt = FuncFormatter(lambda v, pos: ('%g' % round(v, 3)) if abs(v) > 1e-9 else '0')

axes = []
for i, ((top, bot), p) in enumerate(zip(panel_px, panels)):
    ax = fig.add_axes([LEFT / W, 1 - bot / H, (RIGHT - LEFT) / W, (bot - top) / H])
    axes.append(ax)
    # thin (quadrupole model) lines
    ax.plot(k_line, p['trg2'], color=TH_RED, lw=0.75, zorder=2)
    ax.plot(k_line, p['tns2'], color=TH_BLUE, lw=0.75, dashes=(3.5, 3.0), zorder=2)
    ax.plot(k_line, p['nlk2'], color=TH_GREEN, lw=0.75, dashes=(7.0, 4.0), zorder=2)
    # thick (monopole model) lines
    ax.plot(k_line, p['trg'], color=RED, lw=1.9, zorder=3, solid_capstyle='butt')
    ax.plot(k_line, p['tns'], color=BLUE, lw=1.9, dashes=(3.6, 3.0), zorder=3)
    ax.plot(k_line, p['nlk'], color=GREEN, lw=1.9, dashes=(8.5, 3.5), zorder=3)
    # N-body measurements
    ax.errorbar(k_nbody, p['quad'], yerr=p['qerr'], zorder=4, **QUAD_STYLE)
    ax.errorbar(k_nbody, p['mono'], yerr=mono_err, zorder=5, **MONO_STYLE)

    ax.set_xlim(0, 0.4)
    ax.set_ylim(*y_limits[i])
    ax.set_xticks(x_ticks)
    ax.set_yticks(y_ticks[i])
    ax.yaxis.set_major_formatter(fmt)
    ax.xaxis.set_major_formatter(fmt)
    ax.tick_params(direction='in', top=True, right=True, length=4, width=0.8,
                   labelsize=FS, pad=4)
    if i < 4:
        ax.tick_params(labelbottom=False)
    for s in ax.spines.values():
        s.set_linewidth(0.9)
    ax.text(0.45, 1 - 11.0 / (bot - top), z_labels[i], transform=ax.transAxes,
            fontsize=FS, ha='left', va='center')

# manual legend in the first panel (gnuplot style)
ax0 = axes[0]
top0, bot0 = panel_px[0]
hgt0 = bot0 - top0
x0 = (73.3 - LEFT) / (RIGHT - LEFT)
x1 = (105.0 - LEFT) / (RIGHT - LEFT)
xt = (112.7 - LEFT) / (RIGHT - LEFT)
rows_px = [86.5, 97.8, 109.3, 121.0, 132.2]
ys = [1 - (r - top0) / hgt0 for r in rows_px]
tr = ax0.transAxes
ax0.plot([x0, x1], [ys[0]] * 2, color=RED, lw=1.9, transform=tr, zorder=6, clip_on=False)
ax0.plot([x0, x1], [ys[1]] * 2, color=BLUE, lw=1.9, dashes=(3.6, 3.0), transform=tr, zorder=6, clip_on=False)
ax0.plot([x0, x1], [ys[2]] * 2, color=GREEN, lw=1.9, dashes=(8.5, 3.5), transform=tr, zorder=6, clip_on=False)
for j, st in ((3, MONO_STYLE), (4, QUAD_STYLE)):
    lw = st['elinewidth'] + 0.2
    ax0.plot([x0, x1], [ys[j]] * 2, color='black', lw=lw, transform=tr, zorder=6, clip_on=False)
    ax0.plot([x0, x1], [ys[j]] * 2, ls='none', marker='|', ms=4, mew=lw, color='black',
             transform=tr, zorder=6, clip_on=False)
    ax0.plot([(x0 + x1) / 2], [ys[j]], ls='none', marker=st['fmt'], ms=st['ms'], mew=st['mew'],
             mfc='none' if st['fmt'] == 'o' else 'black', mec='black',
             transform=tr, zorder=6, clip_on=False)
for j, lab in enumerate(legend_labels):
    ax0.text(xt, ys[j], lab, transform=tr, fontsize=FS, ha='left', va='center', zorder=6)

fig.text(260.7 / W, 1 - 691.5 / H, 'wave number k [h/Mpc]', ha='center', va='center', fontsize=FS)
fig.text(12.0 / W, 1 - 338.0 / H, 'P / P$_{\\rm nw}$', ha='center', va='center', rotation=90, fontsize=FS)

fig.savefig('out.png', dpi=100)
